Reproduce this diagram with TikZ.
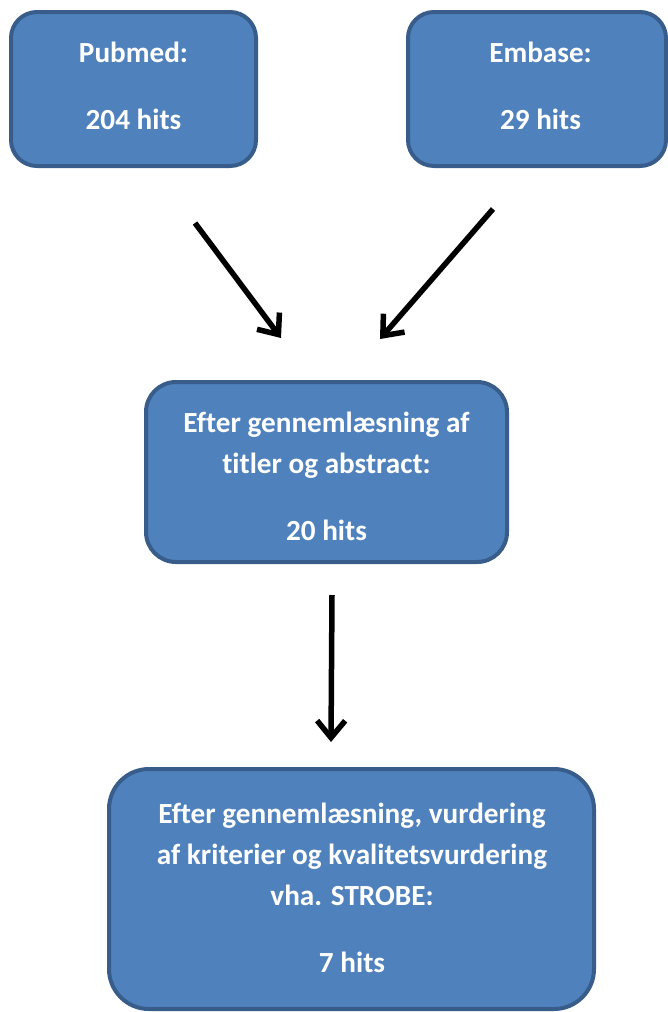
\documentclass[tikz,border=0pt]{standalone}
\usepackage{fontspec}
\setmainfont[RawFeature=-liga]{Carlito}
\usetikzlibrary{arrows.meta}
\definecolor{boxfill}{HTML}{4F81BD}
\definecolor{boxline}{HTML}{385D8A}
\begin{document}
\begin{tikzpicture}[x=1pt,y=-1pt,
  box/.style={draw=boxline, fill=boxfill, line width=4pt, rounded corners=#1,
    inner sep=0pt, anchor=center},
  txt/.style={text=white, font=\fontsize{29.2}{41}\selectfont\bfseries, align=center,
    inner sep=0pt, anchor=center},
  arr/.style={line width=5.5pt, -{Straight Barb[length=17pt,width=28pt,line width=5.5pt]}}]
\useasboundingbox (0,0) rectangle (667,1012);
\node[box=26pt, minimum width=245pt, minimum height=154pt] (pub) at (133.5,89) {};
\node[txt] (pubt) at (133.5,86) {Pubmed:\\[26pt]204 hits};
\node[box=26pt, minimum width=258pt, minimum height=154pt] (emb) at (537,89) {};
\node[txt] (embt) at (540.5,86) {Embase:\\[26pt]29 hits};
\node[box=30pt, minimum width=361pt, minimum height=180pt] (mid) at (326.5,472) {};
\node[txt] (midt) at (326.5,476) {Efter gennemlæsning af\\titler og abstract:\\[26pt]20 hits};
\node[box=40pt, minimum width=485pt, minimum height=240pt] (bot) at (351.5,889) {};
\node[txt] (bott) at (352,888) {Efter gennemlæsning, vurdering\\af kriterier og kvalitetsvurdering\\vha. STROBE:\\[26pt]7 hits};
\coordinate (a1s) at (195,223);
\coordinate (a1e) at (281,338);
\coordinate (a2s) at (493,209);
\coordinate (a2e) at (380,339);
\coordinate (a3s) at (332,595);
\coordinate (a3e) at (331,742);
\draw[arr] (a1s) -- (a1e);
\draw[arr] (a2s) -- (a2e);
\draw[arr] (a3s) -- (a3e);
\end{tikzpicture}
\end{document}
